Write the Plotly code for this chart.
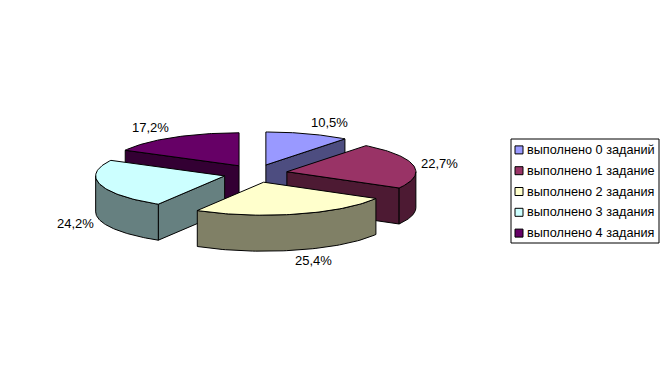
import math
import plotly.graph_objects as go

# Data
categories = ["выполнено 0 заданий", "выполнено 1 задание", "выполнено 2 задания",
              "выполнено 3 задания", "выполнено 4 задания"]
values = [10.5, 22.7, 25.4, 24.2, 17.2]
top_colors = ["#9999FF", "#993366", "#FFFFCC", "#CCFFFF", "#660066"]
side_colors = ["#4D4D80", "#4D1A33", "#808066", "#668080", "#330033"]

# Layout constants (pixels)
W, H = 669, 385
CX, CY, RX, RY, DEPTH = 255.5, 173.5, 129, 33, 36
EX, EY = 32, 9
label_pos = [(329.5, 122.5), (439.5, 163.5), (313.5, 260.5), (75, 223.5), (150, 127.5)]
LEG = dict(x0=511, y0=139, x1=659, y1=243)
FONT = "Liberation Sans, Arial, sans-serif"

fig = go.Figure()


def poly(xs, ys, color):
    fig.add_trace(go.Scatter(x=xs + xs[:1], y=ys + ys[:1], mode="lines", fill="toself",
                             fillcolor=color, line=dict(color="black", width=1),
                             hoverinfo="skip", showlegend=False))


def pt(ax, ay, t, r=1.0):
    return ax + r * RX * math.sin(t), ay - r * RY * math.cos(t)


total = sum(values)
slices = []
acc = 0.0
for i, v in enumerate(values):
    a0 = acc / total * 2 * math.pi
    acc += v
    a1 = acc / total * 2 * math.pi
    mid = (a0 + a1) / 2
    slices.append((i, a0, a1, CX + EX * math.sin(mid), CY - EY * math.cos(mid)))


def arc(a0, a1, ax, ay, n=60):
    return [pt(ax, ay, a0 + (a1 - a0) * k / n) for k in range(n + 1)]


# painter's order: farthest apex first
for i, a0, a1, ax, ay in sorted(slices, key=lambda s: s[4]):
    # radial side faces
    if math.sin(a0) < -1e-6:
        p = pt(ax, ay, a0)
        poly([ax, p[0], p[0], ax], [ay, p[1], p[1] + DEPTH, ay + DEPTH], side_colors[i])
    if math.sin(a1) > 1e-6:
        p = pt(ax, ay, a1)
        poly([ax, p[0], p[0], ax], [ay, p[1], p[1] + DEPTH, ay + DEPTH], side_colors[i])
    # outer rim, front half only
    lo, hi = max(a0, math.pi / 2), min(a1, 3 * math.pi / 2)
    if hi > lo:
        rim = arc(lo, hi, ax, ay)
        poly([q[0] for q in rim] + [q[0] for q in reversed(rim)],
             [q[1] for q in rim] + [q[1] + DEPTH for q in reversed(rim)], side_colors[i])
    # top face
    top = arc(a0, a1, ax, ay)
    poly([ax] + [q[0] for q in top], [ay] + [q[1] for q in top], top_colors[i])

# Data labels
for v, (x, y) in zip(values, label_pos):
    fig.add_annotation(x=x, y=y, text=f"{v:.1f}%".replace(".", ","), showarrow=False,
                       font=dict(family=FONT, size=13, color="black"), xanchor="center", yanchor="middle")

# Legend
fig.add_shape(type="rect", x0=LEG["x0"], y0=LEG["y0"], x1=LEG["x1"], y1=LEG["y1"],
              line=dict(color="black", width=1), fillcolor="white", layer="below")
row_h = (LEG["y1"] - LEG["y0"]) / len(categories)
for i, name in enumerate(categories):
    y = LEG["y0"] + row_h * (i + 0.5) + 0.5
    fig.add_trace(go.Scatter(x=[LEG["x0"] + 8], y=[y], mode="markers", hoverinfo="skip", showlegend=False,
                             marker=dict(symbol="square", size=8, color=top_colors[i],
                                         line=dict(color="black", width=1))))
    fig.add_annotation(x=LEG["x0"] + 14, y=y, text=name, showarrow=False, xanchor="left", yanchor="middle",
                       font=dict(family=FONT, size=12.7, color="black"))

fig.update_layout(width=W, height=H, margin=dict(l=0, r=0, t=0, b=0), paper_bgcolor="white",
                  plot_bgcolor="white", showlegend=False,
                  xaxis=dict(range=[0, W], visible=False, fixedrange=True),
                  yaxis=dict(range=[H, 0], visible=False, fixedrange=True))
fig.write_html("out.html", config={"displayModeBar": False},
               post_script="document.body.style.margin='0';")
